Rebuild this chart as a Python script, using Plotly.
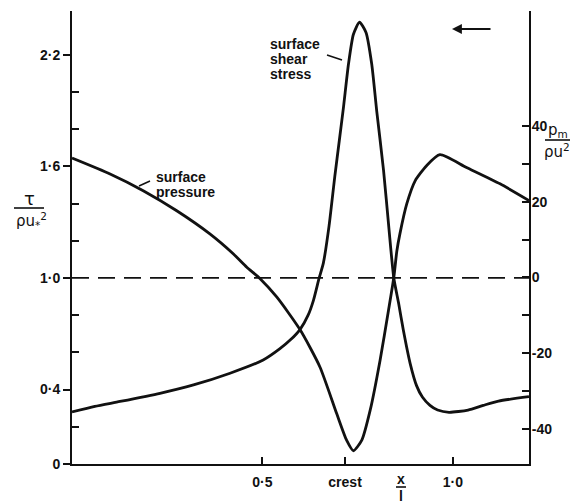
import plotly.graph_objects as go

# ---------------- data ----------------
shear_x = [0.0, 0.06, 0.126, 0.231, 0.319, 0.415, 0.502, 0.546, 0.575, 0.599,
           0.62, 0.634, 0.649, 0.66, 0.675, 0.69, 0.702, 0.713, 0.726, 0.739,
           0.755, 0.772, 0.787, 0.80, 0.818, 0.832, 0.845, 0.858, 0.870, 0.888,
           0.905, 0.92, 0.94, 0.96, 0.99, 1.04, 1.08, 1.12, 1.2]
shear_y = [0.28, 0.31, 0.336, 0.38, 0.425, 0.488, 0.559, 0.62, 0.67, 0.724,
           0.80, 0.88, 1.0, 1.08, 1.28, 1.545, 1.74, 1.92, 2.15, 2.31,
           2.375, 2.32, 2.15, 1.90, 1.58, 1.27, 1.0, 0.86, 0.72, 0.54,
           0.42, 0.36, 0.315, 0.29, 0.278, 0.29, 0.315, 0.338, 0.362]

pressure_x = [0.0, 0.1, 0.187, 0.275, 0.362, 0.424, 0.459, 0.494, 0.538, 0.599,
              0.651, 0.695, 0.721, 0.739, 0.761, 0.783, 0.809, 0.831, 0.845,
              0.853, 0.861, 0.879, 0.901, 0.931, 0.966, 1.036, 1.124, 1.2]
pressure_y = [31.5, 27.3, 22.9, 17.6, 11.5, 6.2, 2.7, -0.3, -5.2, -13.8,
              -23.6, -35.9, -42.9, -45.7, -42.9, -35.0, -21.8, -8.7, 0.0,
              7.0, 11.5, 19.4, 25.5, 29.5, 32.4, 29.0, 24.7, 20.3]

ref_x = [0.0, 1.2]
ref_y = [1.0, 1.0]

x_tickvals = [0.5, 0.717, 1.0]
x_ticktext = ["0·5", "crest", "1·0"]
yl_tickvals = [0, 0.4, 1.0, 1.6, 2.2]
yl_ticktext = ["0", "0·4", "1·0", "1·6", "2·2"]
yl_minor = [0.2, 0.6, 0.8, 1.2, 1.4, 1.8, 2.0]
yr_tickvals = [-40, -20, 0, 20, 40]
yr_ticktext = ["-40", "-20", "0", "20", "40"]
yr_minor = [-30, -10, 10, 30]

# ---------------- figure ----------------
W, H = 570, 503
L, R, T, B = 72, 41, 11, 39
PW, PH = W - L - R, H - T - B


def P(px, py):
    return (px - L) / PW, (H - B - py) / PH


INK = "#111111"
FONT = "Liberation Sans"

fig = go.Figure()
fig.add_trace(go.Scatter(x=ref_x, y=ref_y, mode="lines", yaxis="y",
                         line=dict(color=INK, width=1.8, dash="17px,9px"),
                         hoverinfo="skip", showlegend=False))
fig.add_trace(go.Scatter(x=shear_x, y=shear_y, mode="lines", yaxis="y",
                         line=dict(color=INK, width=2.8, shape="spline", smoothing=0.6),
                         showlegend=False, name="surface shear stress"))
fig.add_trace(go.Scatter(x=pressure_x, y=pressure_y, mode="lines", yaxis="y2",
                         line=dict(color=INK, width=2.8, shape="spline", smoothing=0.6),
                         showlegend=False, name="surface pressure"))

tickfont = dict(family=FONT, size=14, color=INK, weight="bold")

fig.update_layout(
    width=W, height=H,
    margin=dict(l=L, r=R, t=T, b=B, pad=0),
    paper_bgcolor="white", plot_bgcolor="white",
    showlegend=False,
    xaxis=dict(range=[0, 1.2], showgrid=False, zeroline=False,
               showline=True, linecolor=INK, linewidth=2,
               tickmode="array", tickvals=x_tickvals, ticktext=x_ticktext,
               ticks="inside", ticklen=7, tickwidth=1.5, tickcolor=INK,
               tickfont=tickfont, ticklabelstandoff=4),
    yaxis=dict(range=[0, 2.435], showgrid=False, zeroline=False,
               showline=True, linecolor=INK, linewidth=2,
               tickmode="array", tickvals=yl_tickvals, ticktext=yl_ticktext,
               ticks="outside", ticklen=7, tickwidth=1.5, tickcolor=INK,
               tickfont=tickfont,
               minor=dict(tickmode="array", tickvals=yl_minor, ticks="inside",
                          ticklen=7, tickwidth=1.5, tickcolor=INK, showgrid=False)),
    yaxis2=dict(range=[-49.2, 70.3], overlaying="y", side="right",
                showgrid=False, zeroline=False,
                showline=True, linecolor=INK, linewidth=2,
                tickmode="array", tickvals=yr_tickvals, ticktext=yr_ticktext,
                ticks="inside", ticklen=7, tickwidth=1.5, tickcolor=INK,
                tickfont=tickfont, ticklabelstandoff=-2,
                minor=dict(tickmode="array", tickvals=yr_minor, ticks="inside",
                           ticklen=7, tickwidth=1.5, tickcolor=INK, showgrid=False)),
)

lblfont = dict(family=FONT, size=14, color=INK, weight="bold")
anns = []


def text_at(px, py, s, font=lblfont, xanchor="left"):
    x, y = P(px, py)
    anns.append(dict(x=x, y=y, xref="paper", yref="paper", text=s, showarrow=False,
                     xanchor=xanchor, yanchor="middle", font=font))


text_at(268, 44, "surface")
text_at(268, 59, "shear")
text_at(268, 74, "stress")
text_at(154, 177, "surface")
text_at(154, 192, "pressure")

# arrow (top right)
ax0, ay0 = P(452, 29)
anns.append(dict(x=ax0, y=ay0, xref="paper", yref="paper", text="", showarrow=True,
                 ax=40, ay=0, arrowhead=2, arrowsize=1.1, arrowwidth=1.8,
                 arrowcolor=INK))

# axis titles as fractions
symfont = dict(family="DejaVu Sans", size=15, color=INK)
text_at(29, 198, "τ", font=dict(family="DejaVu Sans", size=18, color=INK), xanchor="center")
text_at(31, 220, "ρu<sub>*</sub><sup>2</sup>", font=symfont, xanchor="center")
text_at(558, 130, "p<sub>m</sub>", font=symfont, xanchor="center")
text_at(557, 151, "ρu<sup>2</sup>", font=symfont, xanchor="center")
text_at(401, 479, "x", font=dict(family=FONT, size=14, color=INK, weight="bold"),
        xanchor="center")
text_at(401, 496, "l", font=dict(family=FONT, size=14, color=INK, weight="bold"),
        xanchor="center")

fig.update_layout(annotations=anns)

# leader lines and fraction bars
shapes = []
for (x0, y0, x1, y1, w) in [(327, 55, 342, 60, 1.5), (139, 186, 150, 181, 1.5),
                            (14, 208, 44, 208, 1.6), (545, 140, 570, 140, 1.6),
                            (396, 487, 406, 487, 1.6)]:
    a, b = P(x0, y0)
    c, d = P(x1, y1)
    shapes.append(dict(type="line", xref="paper", yref="paper", x0=a, y0=b, x1=c, y1=d,
                       line=dict(color=INK, width=w)))
fig.update_layout(shapes=shapes)

fig.write_html("out.html")
